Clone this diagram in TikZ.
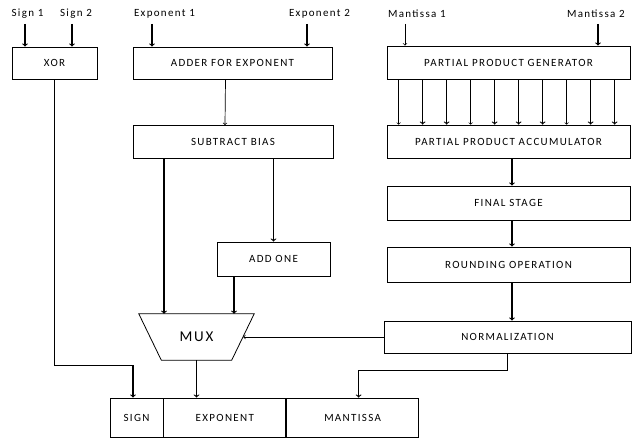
\documentclass[tikz,border=0pt]{standalone}
\usepackage{fontspec}
\setmainfont{Carlito}
\newfontfamily\blkfont[LetterSpace=12]{Carlito}
\usetikzlibrary{positioning}

\begin{document}
\begin{tikzpicture}[x=1pt,y=-1pt,
		blk/.style={draw,line width=0.8pt,minimum height=32pt,inner sep=0pt,font=\blkfont\fontsize{11}{13}\selectfont},
		cell/.style={blk,minimum height=39pt},
		lbl/.style={inner sep=0pt,font=\blkfont\fontsize{11}{13}\selectfont},
		bus/.style={->,line width=1.1pt},
		wire/.style={->,line width=0.7pt}]
		\useasboundingbox (0,0) rectangle (632,441);

		% Sign path
		\node[lbl] (s1) at (27.5,14) {Sign 1};
		\node[lbl] (s2) at (76,14) {Sign 2};
		\node[blk,minimum width=85pt] (xor) at (54.5,63) {XOR};
		\coordinate (s1in) at (25,24);
		\coordinate (s2in) at (72,24);
		\draw[bus] (s1in) -- (s1in |- xor.north);
		\draw[bus] (s2in) -- (s2in |- xor.north);

		% Exponent path
		\node[lbl] (e1) at (164.5,14) {Exponent 1};
		\node[lbl] (e2) at (319.5,14) {Exponent 2};
		\node[blk,minimum width=199pt] (adder) at (232.5,63) {ADDER FOR EXPONENT};
		\node[blk,minimum width=200pt,minimum height=33pt] (sub) at (233,142) {SUBTRACT BIAS};
		\node[blk,minimum width=113pt,minimum height=34pt] (addone) at (273.5,259) {ADD ONE};
		\node[minimum width=115pt,minimum height=46pt,inner sep=0pt,
			font=\blkfont\fontsize{15}{17}\selectfont] (mux) at (196.5,337) {MUX};
		\draw[line width=0.8pt] (mux.north west) -- (mux.north east)
			-- ([xshift=-22.5pt]mux.south east) -- ([xshift=22.5pt]mux.south west) -- cycle;
		\coordinate (e1in) at (152,24);
		\coordinate (e2in) at (307,24);
		\draw[bus] (e1in) -- (e1in |- adder.north);
		\draw[bus] (e2in) -- (e2in |- adder.north);
		\draw[wire] ([xshift=-7pt]adder.south) -- ([xshift=-8pt]sub.north);
		\draw[bus] ([xshift=-69pt]sub.south) coordinate (subl) -- (subl |- mux.north);
		\draw[bus] (sub.south -| addone) -- (addone.north);
		\draw[bus] ([xshift=-39.5pt]addone.south) coordinate (aol) -- (aol |- mux.north);

		% Mantissa path
		\node[lbl] (m1) at (417,14) {Mantissa 1};
		\node[lbl] (m2) at (596,14) {Mantissa 2};
		\node[blk,minimum width=243pt,minimum height=33pt] (ppg) at (508.5,62.5) {PARTIAL PRODUCT GENERATOR};
		\node[blk,minimum width=243pt,minimum height=33pt] (ppa) at (508.5,141.5) {PARTIAL PRODUCT ACCUMULATOR};
		\node[blk,minimum width=243pt,minimum height=34pt] (fin) at (508.5,203) {FINAL STAGE};
		\node[blk,minimum width=243pt,minimum height=35pt] (rnd) at (508.5,264.5) {ROUNDING OPERATION};
		\node[blk,minimum width=247pt] (norm) at (507.5,337) {NORMALIZATION};
		\coordinate (m1in) at (405,24);
		\coordinate (m2in) at (598,24);
		\draw[wire] (m1in) -- (m1in |- ppg.north);
		\draw[bus] (m2in) -- (m2in |- ppg.north);
		\foreach \i in {0,...,9} {
			\ifnum\i=0 \def\lw{0.6pt}\else\ifnum\i=3 \def\lw{0.6pt}\else\ifnum\i=7 \def\lw{0.6pt}\else\def\lw{1.1pt}\fi\fi\fi
			\draw[->,line width=\lw] ([xshift=12pt+\i*24pt]ppg.south west) -- ([xshift=12pt+\i*24pt]ppa.north west);
		}
		\draw[bus] ([xshift=3.5pt]ppa.south) -- ([xshift=3.5pt]fin.north);
		\draw[bus] ([xshift=3.5pt]fin.south) -- ([xshift=3.5pt]rnd.north);
		\draw[bus] ([xshift=3.5pt]rnd.south) -- ([xshift=4.5pt]norm.north);
		\draw[wire] (norm.west) -- ([xshift=-11pt]mux.east);

		% Result register
		\node[cell,minimum width=53pt] (sgn) at (136.5,417.5) {SIGN};
		\node[cell,minimum width=122pt,right=0pt of sgn] (expo) {EXPONENT};
		\node[cell,minimum width=132pt,right=0pt of expo] (man) {MANTISSA};
		\draw[bus] (xor.south) -- ++(0,286) -| ([xshift=-3.5pt]sgn.north);
		\draw[bus] (mux.south) -- (mux.south |- expo.north);
		\draw[bus] (norm.south) -- ++(0,17) -| ([xshift=6pt]man.north);
	\end{tikzpicture}
\end{document}
